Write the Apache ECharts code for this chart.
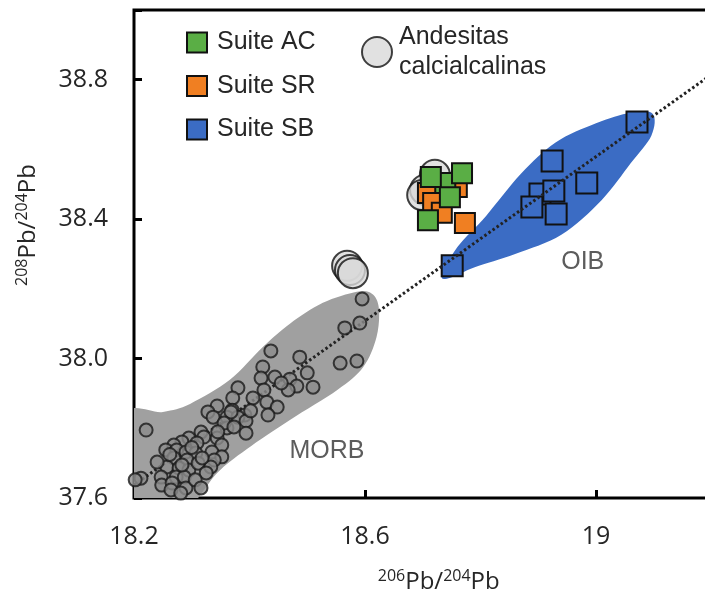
<!DOCTYPE html>
<html><head><meta charset="utf-8">
<script src="https://cdn.jsdelivr.net/npm/echarts@6/dist/echarts.min.js"></script>
<style>html,body{margin:0;padding:0;background:#fff}#c{width:705px;height:594px}</style>
</head><body><div id="c"></div>
<script>
const xTickLabels = ['18.2', '18.6', '19'];
const yTickLabels = ['37.6', '38.0', '38.4', '38.8'];

const morb = [
  [18.595,38.171],[18.565,38.088],[18.591,38.102],[18.557,37.987],[18.586,37.993],
  [18.437,38.022],[18.487,38.004],[18.500,37.959],[18.510,37.918],[18.470,37.941],[18.482,37.921],[18.467,37.910],
  [18.423,37.976],[18.420,37.944],[18.444,37.947],[18.425,37.910],[18.380,37.916],[18.371,37.887],[18.406,37.887],[18.430,37.875],[18.448,37.861],[18.432,37.838],
  [18.344,37.864],[18.328,37.847],[18.370,37.852],[18.392,37.838],[18.337,37.832],[18.361,37.832],[18.380,37.832],[18.368,37.847],
  [18.361,37.801],[18.394,37.821],[18.394,37.786],[18.221,37.795],[18.356,37.815],[18.373,37.804],
  [18.316,37.789],[18.321,37.775],[18.295,37.772],[18.283,37.761],[18.309,37.758],[18.344,37.772],[18.352,37.752],
  [18.269,37.752],[18.255,37.738],[18.274,37.738],[18.290,37.732],[18.307,37.729],[18.335,37.732],[18.352,37.718],
  [18.269,37.715],[18.292,37.709],[18.339,37.709],[18.257,37.689],[18.278,37.686],[18.295,37.680],[18.333,37.689],[18.311,37.700],[18.325,37.672],
  [18.247,37.660],[18.273,37.660],[18.287,37.660],[18.248,37.637],[18.266,37.643],[18.290,37.629],[18.264,37.623],[18.281,37.614],
  [18.212,37.657],[18.202,37.652],[18.240,37.703],[18.306,37.652],[18.316,37.629],
  [18.300,37.745],[18.283,37.695],[18.318,37.715],[18.262,37.725],[18.345,37.790],[18.402,37.850],[18.455,37.930]
];
const andesitas = [[18.569,38.266],[18.574,38.254],[18.579,38.245],[18.721,38.527],[18.704,38.484],[18.699,38.469]];
const suiteSR = [[18.773,38.389],[18.709,38.475],[18.718,38.446],[18.733,38.418],[18.759,38.492]];
const suiteAC = [[18.739,38.504],[18.714,38.521],[18.768,38.532],[18.747,38.463],[18.709,38.397]];
const suiteSB = [[18.903,38.472],[18.889,38.435],[19.071,38.679],[18.924,38.567],[18.984,38.504],[18.927,38.481],[18.931,38.415],[18.751,38.266]];
const trendLine = [[18.2,37.637],[19.2,38.815]];
const morbField = [
  [18.180,37.832],[18.250,37.847],[18.297,37.870],[18.366,37.939],[18.423,38.033],[18.470,38.100],[18.527,38.160],
  [18.586,38.192],[18.612,38.186],[18.624,38.145],[18.620,38.062],[18.597,37.976],[18.552,37.910],
  [18.470,37.824],[18.395,37.740],[18.344,37.672],[18.300,37.580],[18.250,37.530],[18.180,37.530]
];
const oibField = [
  [18.733,38.238],[18.760,38.320],[18.810,38.410],[18.870,38.530],[18.930,38.620],[19.000,38.675],
  [19.060,38.705],[19.098,38.702],[19.096,38.640],[19.060,38.560],[19.010,38.455],[18.940,38.355],
  [18.860,38.300],[18.790,38.262],[18.748,38.232]
];
const fieldLabels = [[18.534,37.735,'MORB'],[18.977,38.277,'OIB']];

const chart = echarts.init(document.getElementById('c'), null, {renderer:'canvas'});
const SANS = 'Liberation Sans';
const TICKF = 'Open Sans';

function closedSpline(pts) {
  const n = pts.length;
  let d = 'M' + pts[0][0] + ',' + pts[0][1];
  for (let i = 0; i < n; i++) {
    const p0 = pts[(i - 1 + n) % n], p1 = pts[i], p2 = pts[(i + 1) % n], p3 = pts[(i + 2) % n];
    const c1x = p1[0] + (p2[0] - p0[0]) / 6, c1y = p1[1] + (p2[1] - p0[1]) / 6;
    const c2x = p2[0] - (p3[0] - p1[0]) / 6, c2y = p2[1] - (p3[1] - p1[1]) / 6;
    d += ' C' + c1x + ',' + c1y + ' ' + c2x + ',' + c2y + ' ' + p2[0] + ',' + p2[1];
  }
  return d + ' Z';
}

function polyRender(points, color) {
  return function (params, api) {
    if (params.dataIndex !== 0) return;
    const pts = points.map(p => api.coord(p));
    const cs = params.coordSys;
    return {
      type: 'path',
      shape: {pathData: closedSpline(pts)},
      style: {fill: color},
      clipPath: {type: 'rect', shape: {x: cs.x, y: cs.y, width: cs.width, height: cs.height}}
    };
  };
}

const sq = (name, data, color, size, z) => ({
  name, type: 'scatter', data, symbol: 'rect', symbolSize: size, z,
  itemStyle: {color, borderColor: '#111', borderWidth: 2, opacity: 1},
  emphasis: {disabled: true}
});

const richTitle = {
  b: {fontSize: 24, fontFamily: TICKF, color: '#262626', lineHeight: 26, verticalAlign: 'bottom'},
  sup: {fontSize: 16, fontFamily: TICKF, color: '#262626', lineHeight: 26, verticalAlign: 'top', padding: [0, 0, 8, 0]}
};

chart.setOption({
  backgroundColor: '#fff',
  animation: false,
  grid: {left: 134, top: 10, width: 577.5, height: 488, outerBoundsMode: 'none', containLabel: false,
         show: true, borderColor: '#000', borderWidth: 3, backgroundColor: 'transparent'},
  xAxis: {
    type: 'value', min: 18.2, max: 19.2, interval: 0.4,
    axisLine: {show: false}, splitLine: {show: false},
    axisTick: {show: true, inside: true, length: 8, lineStyle: {color: '#000', width: 3}},
    axisLabel: {
      margin: 26, fontSize: 25, fontFamily: TICKF, color: '#262626',
      formatter: v => { const s = String(Math.round(v * 10) / 10); return xTickLabels.includes(s) ? s : ''; }
    },
    name: '{sup|206}{b|Pb/}{sup|204}{b|Pb}', nameLocation: 'middle', nameGap: 70,
    nameTextStyle: {padding: [0, 0, 0, 32], rich: richTitle}
  },
  yAxis: {
    type: 'value', min: 37.6, max: 39.0, interval: 0.4,
    axisLine: {show: false}, splitLine: {show: false},
    axisTick: {show: true, inside: true, length: 8, lineStyle: {color: '#000', width: 3}},
    axisLabel: {
      margin: 26, fontSize: 25, fontFamily: TICKF, color: '#262626',
      formatter: v => { const s = v.toFixed(1); return yTickLabels.includes(s) ? s : ''; }
    },
    name: '{sup|208}{b|Pb/}{sup|204}{b|Pb}', nameLocation: 'middle', nameGap: 94, nameRotate: 90,
    nameTextStyle: {padding: [0, 0, 0, 58], rich: richTitle}
  },
  legend: [
    {
      data: ['Suite AC', 'Suite SR', 'Suite SB'], orient: 'vertical', left: 186, top: 30, padding: 0,
      itemWidth: 20, itemHeight: 20, itemGap: 18.5, selectedMode: false,
      textStyle: {fontSize: 25, fontFamily: SANS, color: '#262626', lineHeight: 20, padding: [0, 0, 0, 5]}
    },
    {
      data: ['Andesitas\ncalcialcalinas'], left: 361, top: 22, padding: 0,
      itemWidth: 30, itemHeight: 30, selectedMode: false,
      textStyle: {fontSize: 25, fontFamily: SANS, color: '#262626', lineHeight: 30, padding: [0, 0, 0, 2]}
    }
  ],
  series: [
    {type: 'custom', name: 'MORB field', renderItem: polyRender(morbField, '#a0a0a0'), data: [morbField[0]], z: 1, silent: true},
    {type: 'custom', name: 'OIB field', renderItem: polyRender(oibField, '#3b6cc4'), data: [oibField[0]], z: 1, silent: true},
    sq('Suite SB', suiteSB, '#3b6cc4', 21, 2),
    {
      type: 'line', name: 'trend', data: trendLine, symbol: 'none', z: 3, silent: true,
      lineStyle: {color: '#222', width: 3, type: [2.5, 2.5]}
    },
    {
      name: 'MORB', type: 'scatter', data: morb, symbol: 'circle', symbolSize: 13, z: 4,
      itemStyle: {color: '#8c8c8c', borderColor: '#1a1a1a', borderWidth: 2}, emphasis: {disabled: true}
    },
    {
      name: 'Andesitas\ncalcialcalinas', type: 'scatter', data: andesitas, symbol: 'circle', symbolSize: 30, z: 4,
      itemStyle: {color: '#d9d9d9', borderColor: '#111', borderWidth: 2}, emphasis: {disabled: true}
    },
    sq('Suite SR', suiteSR, '#f07f22', 20, 5),
    sq('Suite AC', suiteAC, '#5aae45', 20, 6),
    {
      type: 'scatter', name: 'labels', data: fieldLabels, symbolSize: 1, z: 7, silent: true,
      itemStyle: {color: 'transparent'},
      label: {show: true, position: 'inside', formatter: p => p.value[2], fontSize: 25, fontFamily: SANS, color: '#333'}
    }
  ]
});
</script>
</body></html>
